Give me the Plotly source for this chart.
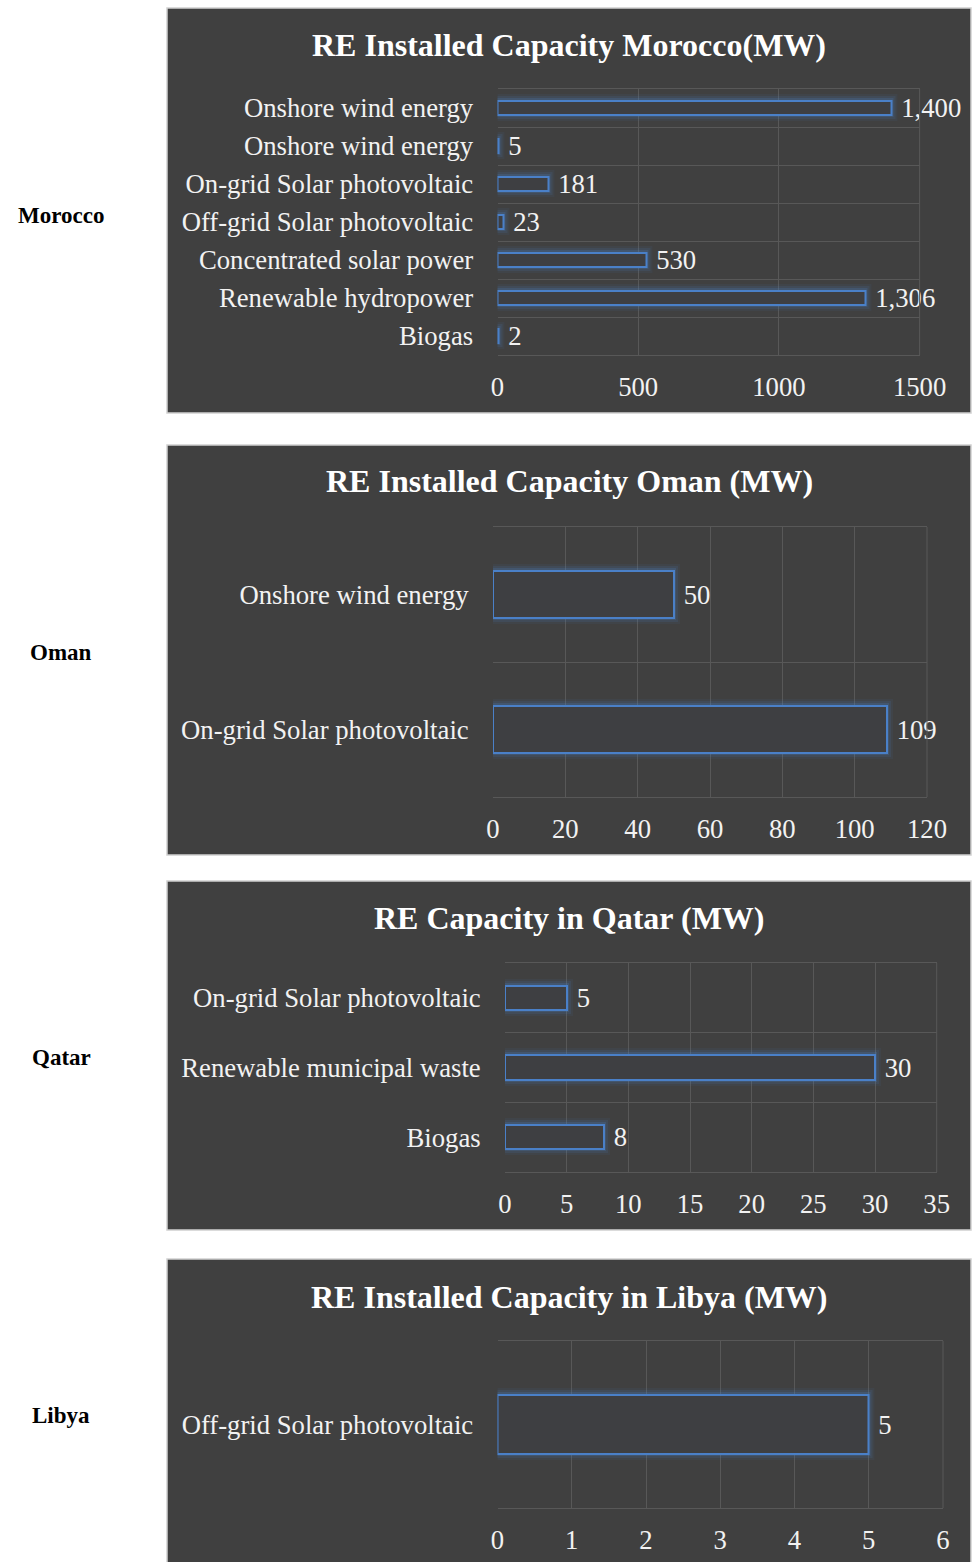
import plotly.graph_objects as go

# ---------------- data ----------------
morocco_cats = ["Onshore wind energy", "Onshore wind energy", "On-grid Solar photovoltaic",
                "Off-grid Solar photovoltaic", "Concentrated solar power",
                "Renewable hydropower", "Biogas"]
morocco_vals = [1400, 5, 181, 23, 530, 1306, 2]

oman_cats = ["Onshore wind energy", "On-grid Solar photovoltaic"]
oman_vals = [50, 109]

qatar_cats = ["On-grid Solar photovoltaic", "Renewable municipal waste", "Biogas"]
qatar_vals = [5, 30, 8]

libya_cats = ["Off-grid Solar photovoltaic"]
libya_vals = [5]

titles = ["RE Installed Capacity Morocco(MW)", "RE Installed Capacity Oman (MW)",
          "RE Capacity in Qatar (MW)", "RE Installed Capacity in Libya (MW)"]
countries = ["Morocco", "Oman", "Qatar", "Libya"]
x_max = [1500, 120, 35, 6]
x_dtick = [500, 20, 5, 1]

# ---------------- layout geometry (pixels) ----------------
W, H = 974, 1562
FONT = "Liberation Serif, Times New Roman, serif"
BG = "#404040"
GRID = "#585858"
BLUE = "#4a80c8"
LBL = 26.7

def px(x):
    return x / W

def py(y):
    return 1 - y / H

panels = [  # box (x0, y0, x1, y1), plot area (x0, y0, x1, y1), title y, country y
    dict(box=(167, 8, 971, 413), plot=(497.5, 89, 919.6, 355), ty=45, cy=215),
    dict(box=(167, 445, 971, 855), plot=(493, 527, 927, 797), ty=481, cy=652),
    dict(box=(167, 881, 971, 1230), plot=(505, 963, 936.7, 1172), ty=918, cy=1057),
    dict(box=(167, 1259, 971, 1575), plot=(497.5, 1341, 943, 1508), ty=1297, cy=1415),
]

datasets = [(morocco_cats, morocco_vals), (oman_cats, oman_vals),
            (qatar_cats, qatar_vals), (libya_cats, libya_vals)]

fig = go.Figure()
shapes = []
annotations = []

glow_layers = [(13, 0.07), (9, 0.12), (5, 0.2)]

for i, ((cats, vals), p) in enumerate(zip(datasets, panels)):
    n = len(cats)
    idx = i + 1
    xa = "x" if idx == 1 else f"x{idx}"
    ya = "y" if idx == 1 else f"y{idx}"
    pos = list(range(n))

    # soft glow around the bars
    for gw, ga in glow_layers:
        fig.add_trace(go.Bar(
            x=vals, y=pos, orientation="h", xaxis=xa, yaxis=ya, width=0.35,
            marker=dict(color="rgba(0,0,0,0)",
                        line=dict(color=f"rgba(74,128,200,{ga})", width=gw)),
            hoverinfo="skip", showlegend=False,
        ))
    fig.add_trace(go.Bar(
        x=vals, y=pos, orientation="h", xaxis=xa, yaxis=ya, width=0.35,
        marker=dict(color="rgba(62,63,66,1)", line=dict(color=BLUE, width=2)),
        texttemplate="\u00a0%{x:,}", textposition="outside", constraintext="none",
        textfont=dict(family=FONT, size=LBL, color="#f2f2f2"),
        cliponaxis=False, showlegend=False,
    ))

    x0, y0, x1, y1 = p["plot"]
    xkey = "xaxis" if idx == 1 else f"xaxis{idx}"
    ykey = "yaxis" if idx == 1 else f"yaxis{idx}"
    fig.update_layout(**{
        xkey: dict(domain=[px(x0), px(x1)], anchor=ya, range=[0, x_max[i]],
                   dtick=x_dtick[i], tick0=0, showgrid=True, gridcolor=GRID, gridwidth=1,
                   zeroline=False, showline=True, mirror=True, linecolor=GRID, linewidth=1,
                   ticks="outside", ticklen=8, automargin=False,
                   tickcolor="rgba(0,0,0,0)", tickformat="d",
                   tickfont=dict(family=FONT, size=LBL, color="#f2f2f2"), fixedrange=True),
        ykey: dict(domain=[py(y1), py(y0)], anchor=xa, range=[n - 0.5, -0.5],
                   tickvals=pos, ticktext=cats, showgrid=False, zeroline=False,
                   showline=False, ticks="outside", ticklen=18, automargin=False,
                   tickcolor="rgba(0,0,0,0)",
                   tickfont=dict(family=FONT, size=LBL, color="#f2f2f2"),
                   minor=dict(tickvals=[k - 0.5 for k in range(1, n)], showgrid=True,
                              gridcolor=GRID, gridwidth=1, ticks=""),
                   fixedrange=True),
    })

    bx0, by0, bx1, by1 = p["box"]
    shapes.append(dict(type="rect", xref="paper", yref="paper",
                       x0=px(bx0), x1=px(bx1), y0=py(by1), y1=py(by0),
                       fillcolor=BG, line=dict(color="#d0d0d0", width=1.5), layer="below"))
    shapes.append(dict(type="line", xref=f"{xa} domain", yref=f"{ya} domain",
                       x0=1, x1=1, y0=0, y1=1, line=dict(color=GRID, width=1)))
    annotations.append(dict(text=f"<b>{titles[i]}</b>", xref="paper", yref="paper",
                            x=px(569), y=py(p["ty"]), xanchor="center", yanchor="middle",
                            showarrow=False, font=dict(family=FONT, size=32, color="#ffffff")))
    annotations.append(dict(text=f"<b>{countries[i]}</b>", xref="paper", yref="paper",
                            x=px(61), y=py(p["cy"]), xanchor="center", yanchor="middle",
                            showarrow=False, font=dict(family=FONT, size=23, color="#000000")))

fig.update_layout(
    width=W, height=H, autosize=False,
    margin=dict(l=0, r=0, t=0, b=0, pad=0, autoexpand=False),
    paper_bgcolor="white", plot_bgcolor="rgba(0,0,0,0)",
    barmode="overlay", bargap=0, showlegend=False,
    shapes=shapes, annotations=annotations,
    font=dict(family=FONT),
)

fig.write_html(
    "out.html",
    config={"responsive": False, "displayModeBar": False},
    post_script="document.body.style.margin='0';document.body.style.overflow='hidden';",
)
